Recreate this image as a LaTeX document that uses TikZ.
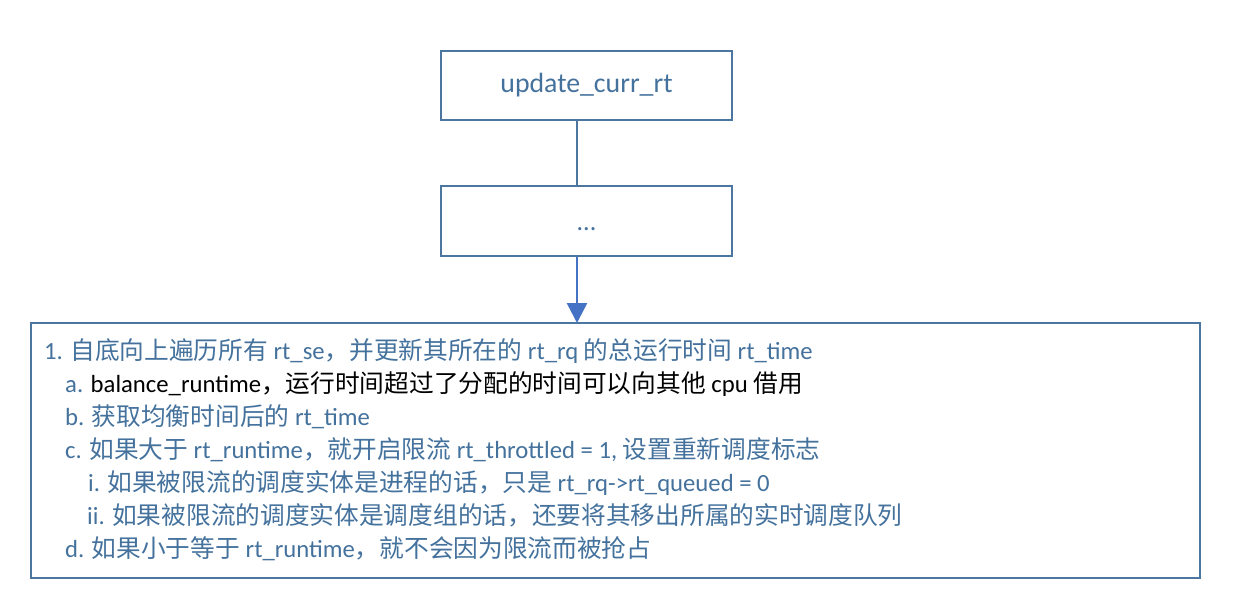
\documentclass[tikz,border=0pt]{standalone}
\usepackage{fontspec}
\setmainfont{Carlito}
\newfontfamily\cjkfont{Noto Sans CJK SC}
\usetikzlibrary{arrows.meta}
\newcommand\zh[1]{{\cjkfont #1}}
\definecolor{boxc}{HTML}{4A76A0}
\definecolor{txtc}{HTML}{44729D}
\definecolor{arrc}{HTML}{4472C4}
\tikzset{
  fbox/.style={draw=boxc, line width=2.5pt, fill=white},
  ltxt/.style={anchor=base west, inner sep=0pt, text=txtc, font=\fontsize{24.7}{29}\selectfont},
}
\begin{document}
\begin{tikzpicture}[x=1pt,y=-1pt]
\useasboundingbox (0,0) rectangle (1242,608);
\fill[white] (0,0) rectangle (1242,608);
\node[fbox, minimum width=291pt, minimum height=69pt, text=txtc, font=\fontsize{27.8}{32}\selectfont] (top) at (586.5,85.5) {update\_curr\_rt};
\node[fbox, minimum width=291pt, minimum height=70pt, text=txtc, text height=18pt, text depth=0pt, font=\fontsize{26}{30}\selectfont] (mid) at (586.5,221) {...};
\draw[fbox] (31,323) rectangle (1200,578);
\coordinate (bigtop) at (577,323);
\draw[draw=boxc, line width=2.5pt] (top.south -| 577,0) -- (mid.north -| 577,0);
\draw[draw=arrc, line width=2.5pt, -{Triangle[width=20pt,length=20pt]}] (mid.south -| 577,0) -- (bigtop);
\node[ltxt] (l1) at (44,359) {1. \zh{自底向上遍历所有} rt\_se\zh{，并更新其所在的} rt\_rq \zh{的总运行时间} rt\_time};
\node[ltxt] (la) at (65,392) {a. \textcolor{black}{balance\_runtime\zh{，运行时间超过了分配的时间可以向其他} cpu \zh{借用}}};
\node[ltxt] (lb) at (65,425) {b. \zh{获取均衡时间后的} rt\_time};
\node[ltxt] (lc) at (65,458) {c. \zh{如果大于} rt\_runtime\zh{，就开启限流} rt\_throttled = 1, \zh{设置重新调度标志}};
\node[ltxt] (li) at (88,491) {i. \zh{如果被限流的调度实体是进程的话，只是} rt\_rq->rt\_queued = 0};
\node[ltxt] (lii) at (87,524) {ii. \zh{如果被限流的调度实体是调度组的话，还要将其移出所属的实时调度队列}};
\node[ltxt] (ld) at (65,557) {d. \zh{如果小于等于} rt\_runtime\zh{，就不会因为限流而被抢占}};
\end{tikzpicture}
\end{document}
